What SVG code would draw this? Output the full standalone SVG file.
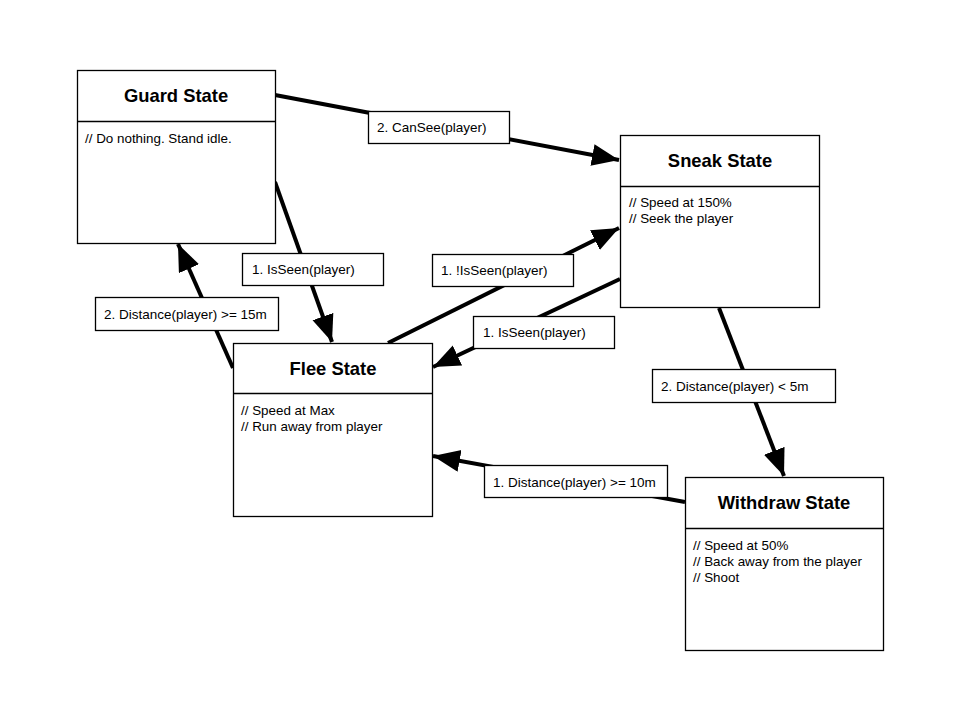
<svg xmlns="http://www.w3.org/2000/svg" width="960" height="720" viewBox="0 0 960 720">
<style>
.box{fill:#fff;stroke:#000;stroke-width:1.3}
.div{stroke:#000;stroke-width:1.3}
.title{font-family:"Liberation Sans",Arial,sans-serif;font-weight:bold;font-size:18.4px;text-anchor:middle;fill:#000}
.body{font-family:"Liberation Sans",Arial,sans-serif;font-size:13.4px;fill:#000}
.lbl{font-family:"Liberation Sans",Arial,sans-serif;font-size:13.5px;fill:#000}
.edge{fill:none;stroke:#000;stroke-width:4;marker-end:url(#ah)}
</style>
<defs>
<marker id="ah" markerUnits="userSpaceOnUse" markerWidth="30" markerHeight="24" refX="27" refY="11" orient="auto">
<path d="M0,0 L27,11 L0,22 Z" fill="#000"/>
</marker>
</defs>
<rect width="960" height="720" fill="#fff"/>
<g id="connectors">
<path class="edge" d="M275,95 L619,160"/>
<path class="edge" d="M275,182 L332,342"/>
<path class="edge" d="M233,368 L178,244"/>
<path class="edge" d="M388,343 L619,228"/>
<path class="edge" d="M620,279 L433,367"/>
<path class="edge" d="M719,308 L784,476"/>
<path class="edge" d="M685,502 L433,456"/>
</g>
<g id="labels">
<g id="lbl-cansee"><rect class="box" x="368.5" y="111.5" width="141" height="32"/><text class="lbl" x="377" y="132">2. CanSee(player)</text></g>
<g id="lbl-isseen1"><rect class="box" x="242.5" y="253.5" width="141" height="32"/><text class="lbl" x="252" y="274">1. IsSeen(player)</text></g>
<g id="lbl-notseen"><rect class="box" x="432.5" y="254.5" width="141" height="32"/><text class="lbl" x="441" y="275">1. !IsSeen(player)</text></g>
<g id="lbl-dist15"><rect class="box" x="95.5" y="297.5" width="183" height="33"/><text class="lbl" x="104" y="319">2. Distance(player) &gt;= 15m</text></g>
<g id="lbl-isseen2"><rect class="box" x="473.5" y="316.5" width="141" height="32"/><text class="lbl" x="483" y="337">1. IsSeen(player)</text></g>
<g id="lbl-dist5"><rect class="box" x="652.5" y="369.5" width="183" height="33"/><text class="lbl" x="661" y="391">2. Distance(player) &lt; 5m</text></g>
<g id="lbl-dist10"><rect class="box" x="484.5" y="465.5" width="183" height="32"/><text class="lbl" x="493" y="487">1. Distance(player) &gt;= 10m</text></g>
</g>
<g id="guard">
<rect class="box" x="77.5" y="70.5" width="198" height="173"/>
<line class="div" x1="77.5" y1="121.5" x2="275.5" y2="121.5"/>
<text class="title" x="176" y="102">Guard State</text>
<text class="body" x="85" y="143">// Do nothing. Stand idle.</text>
</g>
<g id="sneak">
<rect class="box" x="620.5" y="135.5" width="199" height="172"/>
<line class="div" x1="620.5" y1="186.5" x2="819.5" y2="186.5"/>
<text class="title" x="720" y="167">Sneak State</text>
<text class="body" x="629" y="207">// Speed at 150%</text>
<text class="body" x="629" y="223">// Seek the player</text>
</g>
<g id="flee">
<rect class="box" x="233.5" y="343.5" width="199" height="173"/>
<line class="div" x1="233.5" y1="393.5" x2="432.5" y2="393.5"/>
<text class="title" x="333" y="375">Flee State</text>
<text class="body" x="241" y="415">// Speed at Max</text>
<text class="body" x="241" y="431">// Run away from player</text>
</g>
<g id="withdraw">
<rect class="box" x="685.5" y="477.5" width="198" height="173"/>
<line class="div" x1="685.5" y1="528.5" x2="883.5" y2="528.5"/>
<text class="title" x="784" y="509">Withdraw State</text>
<text class="body" x="693" y="550">// Speed at 50%</text>
<text class="body" x="693" y="566">// Back away from the player</text>
<text class="body" x="693" y="582">// Shoot</text>
</g>
</svg>
